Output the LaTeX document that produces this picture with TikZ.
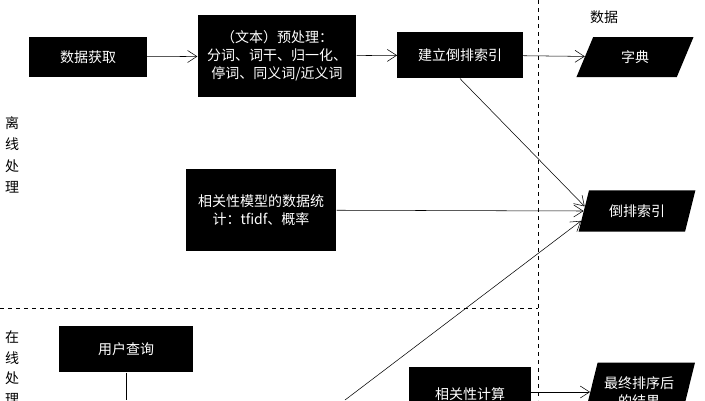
\documentclass[tikz,border=0pt]{standalone}
\usepackage{fontspec}
\setmainfont{Noto Sans CJK SC}
\usetikzlibrary{arrows.meta,shapes.geometric}

\tikzset{
	blackbox/.style={fill=black, text=white, font=\fontsize{10.5}{13.5}\selectfont, align=center, inner sep=2pt},
	databox/.style={blackbox, trapezium, trapezium left angle=70, trapezium right angle=110, trapezium stretches=true},
	flow/.style={-{Straight Barb[length=7pt,width=9pt]}, thin},
}

\begin{document}
\begin{tikzpicture}[x=0.75pt, y=-0.75pt]
	\useasboundingbox (0,0) rectangle (705,400);
	
	% dividers
	\draw[dashed] (538,0) -- (538,400);
	\draw[dashed] (0,308) -- (538,308);
	
	% side labels
	\node[align=center, font=\fontsize{10.5}{16}\selectfont] (offline) at (12,155) {离\\线\\处\\理};
	\node[align=center, font=\fontsize{10.5}{15.5}\selectfont, anchor=north] (online) at (12,326) {在\\线\\处\\理};
	\node (datalabel) at (604,17) {\fontsize{10.5}{12}\selectfont 数据};
	
	% offline
	\node[blackbox, minimum width=88pt, minimum height=30pt] (fetch) at (88,57) {数据获取};
	\node[blackbox, minimum width=119pt, minimum height=61pt] (prep) at (277,56) {（文本）预处理：\\分词、词干、归一化、\\停词、同义词/近义词};
	\node[blackbox, minimum width=94pt, minimum height=35pt] (index) at (460,55) {建立倒排索引};
	\node[blackbox, minimum width=113pt, minimum height=61pt] (model) at (261,210) {相关性模型的数据统\\计：tfidf、概率};
	\node[databox, minimum width=88pt, minimum height=30pt] (dict) at (635,57) {字典};
	\node[databox, minimum width=88pt, minimum height=31pt] (inv) at (637,211) {倒排索引};
	
	% online
	\node[blackbox, minimum width=100pt, minimum height=35pt] (query) at (126,349) {用户查询};
	\node[blackbox, minimum width=91pt, minimum height=40pt] (rank) at (470,394) {相关性计算};
	\node[databox, minimum width=84pt, minimum height=44pt] (result) at (639,392) {最终排序后\\的结果};
	\coordinate (qdown) at (126,400);
	\coordinate (lookup) at (345,400);
	
	\draw[flow] (fetch) -- (prep);
	\draw[flow] (prep) -- (index);
	\draw[flow] (index) -- (dict);
	\draw[flow] (index.south) -- (inv.175);
	\draw[flow] (model) -- (inv.west);
	\draw[flow] (lookup) -- (inv.190);
	\draw (query) -- (qdown);
	\draw[flow] (rank.east |- 0,392) -- (result.west |- 0,392);
\end{tikzpicture}
\end{document}
